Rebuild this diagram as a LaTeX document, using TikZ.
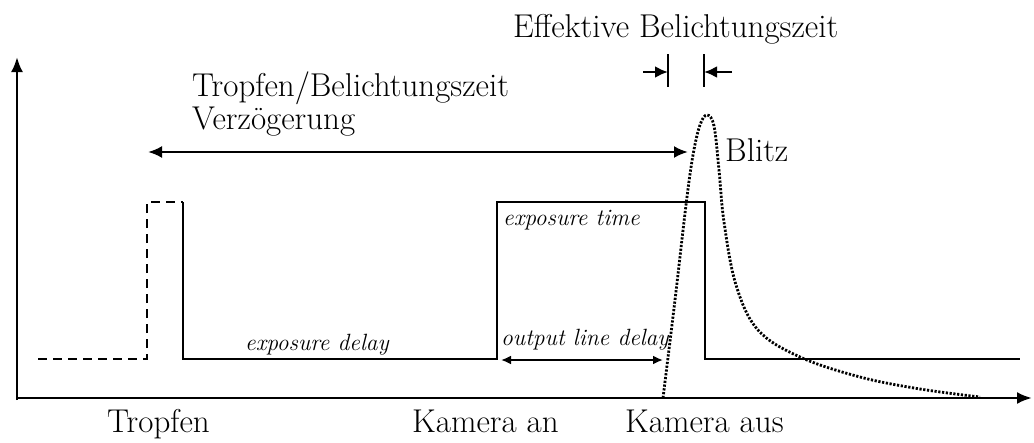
\documentclass[tikz,border=0pt]{standalone}
\usetikzlibrary{arrows.meta}
\tikzset{
  signal/.style={line width=2pt},
  lbl/.style={inner sep=0pt, anchor=base west, font=\fontsize{33}{36}\selectfont},
  small/.style={inner sep=0pt, anchor=base west, font=\fontsize{23.5}{26}\selectfont\itshape},
  dim/.style={line width=2.4pt, {Latex[length=14pt,width=12pt]}-{Latex[length=14pt,width=12pt]}},
}
\begin{document}
\begin{tikzpicture}[x=1pt,y=-1pt]
        \useasboundingbox (0,0) rectangle (1034,442);
        % axes
        \coordinate (O) at (17,398);
        \coordinate (ytop) at (17,57);
        \coordinate (xend) at (1032,398);
        \draw[line width=2.6pt,-{Latex[length=15pt,width=12pt]}] (17,400) -- (ytop);
        \draw[line width=2.6pt,-{Latex[length=15pt,width=12pt]}] (O) -- (xend);
        % drop and camera signal
        \draw[signal, dash pattern=on 9pt off 6pt] (38,359) -- (147,359) -- (147,202) -- (183,202);
        \draw[signal] (183,202) -- (183,359) -- (497,359) -- (497,202) -- (705,202) -- (705,359) -- (1020,359);
        % flash
        \draw[line width=2.8pt, dash pattern=on 2.2pt off 1.6pt] plot[smooth, tension=0.6] coordinates {(663,398) (675,300) (686,205) (693,155) (700,125) (707,115) (714,126) (719,170) (724,222) (736,285) (758,330) (800,357) (860,377) (920,389) (980,397)};
        % delay arrow
        \coordinate (dl) at (148,152);
        \coordinate (dr) at (688,152);
        \draw[dim] (dl) -- (dr);
        \node[lbl] (delay) at (192,96) {Tropfen/Belichtungszeit};
        \node[lbl] (delayb) at (192,129) {Verz\"ogerung};
        % effective exposure
        \coordinate (ea) at (668,54);
        \coordinate (eb) at (704,54);
        \draw[line width=1.6pt] (ea) -- ++(0,33);
        \draw[line width=1.6pt] (eb) -- ++(0,33);
        \draw[line width=2.6pt,-{Latex[length=13pt,width=12pt]}] (643,72) -- (668,72);
        \draw[line width=2.6pt,-{Latex[length=13pt,width=12pt]}] (732,72) -- (704,72);
        \node[lbl] (eff) at (513,37) {Effektive Belichtungszeit};
        \node[lbl] (blitz) at (725,161) {Blitz};
        % output line delay
        \coordinate (ol) at (501,360);
        \coordinate (or) at (663,360);
        \draw[line width=2.4pt, {Latex[length=10pt,width=9pt]}-{Latex[length=10pt,width=9pt]}] (ol) -- (or);
        \node[small] (exptime) at (503,225) {exposure time};
        \node[small] (expdelay) at (245,350) {exposure delay};
        \node[small] (outdelay) at (501,345) {output line delay};
        % events
        \node[lbl] (drop) at (107,432) {Tropfen};
        \node[lbl] (camon) at (412,432) {Kamera an};
        \node[lbl] (camoff) at (625,432) {Kamera aus};
\end{tikzpicture}
\end{document}
